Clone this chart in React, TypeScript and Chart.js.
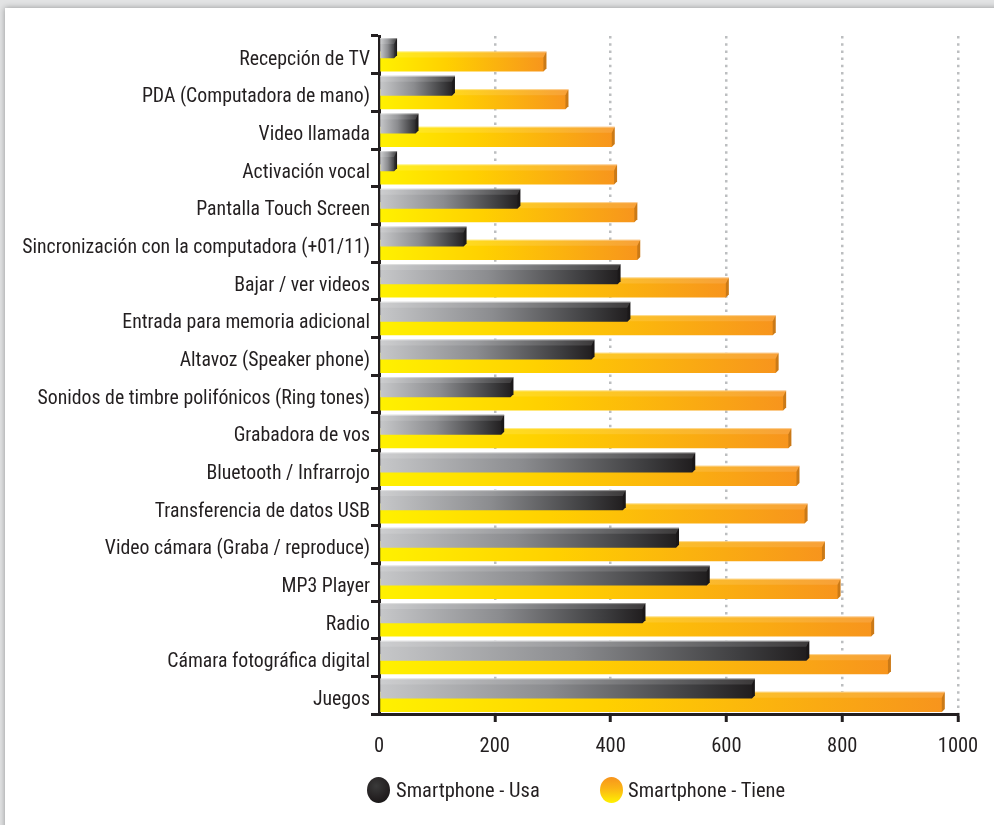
import React, { useEffect, useRef } from "react";
import { Chart, registerables } from "chart.js";

Chart.register(...registerables);

const categories = [
  "Recepción de TV",
  "PDA (Computadora de mano)",
  "Video llamada",
  "Activación vocal",
  "Pantalla Touch Screen",
  "Sincronización con la computadora (+01/11)",
  "Bajar / ver videos",
  "Entrada para memoria adicional",
  "Altavoz (Speaker phone)",
  "Sonidos de timbre polifónicos (Ring tones)",
  "Grabadora de vos",
  "Bluetooth / Infrarrojo",
  "Transferencia de datos USB",
  "Video cámara (Graba / reproduce)",
  "MP3 Player",
  "Radio",
  "Cámara fotográfica digital",
  "Juegos",
];

const usaValues = [26, 126, 63, 26, 239, 146, 412, 429, 367, 227, 211, 541, 421, 513, 566, 455, 738, 644];
const tieneValues = [284, 322, 402, 406, 441, 446, 599, 680, 685, 698, 707, 721, 735, 765, 792, 850, 879, 972];

const seriesNames = ["Smartphone - Usa", "Smartphone - Tiene"];
const xTicks = [0, 200, 400, 600, 800, 1000];

const FONT = "Roboto, 'DejaVu Sans Condensed', sans-serif";
const INK = "#231f20";

const darkStops: [number, string][] = [
  [0, "#c6c7c9"],
  [0.45, "#8b8c8f"],
  [0.85, "#3c3c3e"],
  [1, "#1f1c1d"],
];
const orangeStops: [number, string][] = [
  [0, "#fff100"],
  [0.4, "#ffd000"],
  [1, "#f7941d"],
];

const bar3d = {
  id: "bar3d",
  afterDatasetDraw(chart: any, args: any) {
    const ctx = chart.ctx as CanvasRenderingContext2D;
    const stops = args.index === 0 ? darkStops : orangeStops;
    const dark = args.index === 0;
    args.meta.data.forEach((el: any) => {
      const p = el.getProps(["x", "y", "base", "height"], true);
      const x = p.x, y = p.y, base = p.base, h = p.height;
      const top = y - h / 2;
      const bot = y + h / 2;
      const d = 3;
      const tf = 6;
      ctx.save();
      const g = ctx.createLinearGradient(base, 0, x + d, 0);
      stops.forEach(([o, c]) => g.addColorStop(o, c));
      ctx.beginPath();
      ctx.moveTo(base, top);
      ctx.lineTo(x + d, top);
      ctx.lineTo(x + d, bot - d);
      ctx.lineTo(x, bot);
      ctx.lineTo(base, bot);
      ctx.closePath();
      ctx.fillStyle = g;
      ctx.fill();
      ctx.beginPath();
      ctx.moveTo(base, top);
      ctx.lineTo(x + d, top);
      ctx.lineTo(x, top + tf);
      ctx.lineTo(base, top + tf);
      ctx.closePath();
      ctx.fillStyle = dark ? "rgba(255,255,255,0.13)" : "rgba(255,255,255,0.12)";
      ctx.fill();
      ctx.beginPath();
      ctx.moveTo(x, top + tf);
      ctx.lineTo(x + d, top);
      ctx.lineTo(x + d, bot - d);
      ctx.lineTo(x, bot);
      ctx.closePath();
      ctx.fillStyle = "rgba(0,0,0,0.18)";
      ctx.fill();
      ctx.beginPath();
      ctx.moveTo(base, top + 0.5);
      ctx.lineTo(x + d, top + 0.5);
      ctx.strokeStyle = dark ? "rgba(255,255,255,0.45)" : "rgba(255,255,255,0.35)";
      ctx.lineWidth = 1;
      ctx.stroke();
      ctx.restore();
    });
  },
};

export default function App() {
  const ref = useRef<HTMLCanvasElement>(null);

  useEffect(() => {
    if (!ref.current) return;
    const chart = new Chart(ref.current, {
      type: "bar",
      data: {
        labels: categories,
        datasets: [
          {
            label: seriesNames[0],
            data: usaValues,
            backgroundColor: "rgba(0,0,0,0)",
            borderWidth: 0,
            categoryPercentage: 0.71,
            barPercentage: 1.5,
          },
          {
            label: seriesNames[1],
            data: tieneValues,
            backgroundColor: "rgba(0,0,0,0)",
            borderWidth: 0,
            categoryPercentage: 0.71,
            barPercentage: 1.5,
          },
        ],
      },
      options: {
        indexAxis: "y",
        responsive: false,
        animation: false,
        devicePixelRatio: 1,
        layout: { padding: { left: 0, right: 36, top: 36, bottom: 61 } },
        plugins: {
          legend: { display: false },
          tooltip: { enabled: false },
        },
        scales: {
          x: {
            min: 0,
            max: 1000,
            z: 1,
            afterBuildTicks: (s: any) => {
              s.ticks = xTicks.map((v) => ({ value: v }));
            },
            afterFit: (s: any) => {
              s.height = 50;
            },
            ticks: {
              color: INK,
              font: { family: FONT, size: 20.5, weight: "condensed" },
              padding: 13,
              callback: (v: any) => String(v),
            },
            grid: {
              color: (c: any) => (c.tick && c.tick.value === 0 ? "rgba(0,0,0,0)" : "#bcbec0"),
              lineWidth: 2.5,
              tickColor: (c: any) => (c.tick && c.tick.value === 0 ? "rgba(0,0,0,0)" : INK),
              tickWidth: 3,
              tickLength: 8,
            },
            border: { display: true, color: INK, width: 3, dash: [2.5, 4.7] },
          },
          y: {
            z: 1,
            afterFit: (s: any) => {
              s.width = 379;
            },
            ticks: {
              color: INK,
              font: { family: FONT, size: 19.8, weight: "condensed" },
              padding: 1,
              labelOffset: 5,
              autoSkip: false,
            },
            grid: {
              offset: true,
              drawOnChartArea: false,
              tickColor: INK,
              tickWidth: 3,
              tickLength: 8,
            },
            border: { display: true, color: INK, width: 3 },
          },
        },
      },
      plugins: [bar3d],
    } as any);
    return () => chart.destroy();
  }, []);

  const legendText: React.CSSProperties = {
    position: "absolute",
    top: 778,
    fontFamily: FONT,
    fontStretch: "75%",
    fontSize: 20.5,
    color: INK,
    lineHeight: "24px",
    whiteSpace: "nowrap",
  };

  return (
    <div
      style={{
        position: "absolute",
        left: 0,
        top: 0,
        width: 994,
        height: 825,
        overflow: "hidden",
        background: "#e2e3e4",
      }}
    >
      <div
        style={{
          position: "absolute",
          left: 5,
          top: 8,
          width: 1000,
          height: 840,
          background: "#ffffff",
          boxShadow: "0 0 6px rgba(0,0,0,0.35)",
        }}
      />
      <canvas
        ref={ref}
        width={994}
        height={825}
        style={{ position: "absolute", left: 0, top: 0, width: 994, height: 825 }}
      />
      <div
        style={{
          position: "absolute",
          left: 367,
          top: 777,
          width: 23,
          height: 26,
          borderRadius: "50%",
          background: "radial-gradient(circle at 40% 35%, #3a3a3a 0%, #231f20 60%, #111 100%)",
        }}
      />
      <div style={{ ...legendText, left: 396 }}>{seriesNames[0]}</div>
      <div
        style={{
          position: "absolute",
          left: 600,
          top: 777,
          width: 23,
          height: 26,
          borderRadius: "50%",
          background: "linear-gradient(to bottom, #f7941d 0%, #fbb515 45%, #fff200 100%)",
        }}
      />
      <div style={{ ...legendText, left: 628 }}>{seriesNames[1]}</div>
    </div>
  );
}
